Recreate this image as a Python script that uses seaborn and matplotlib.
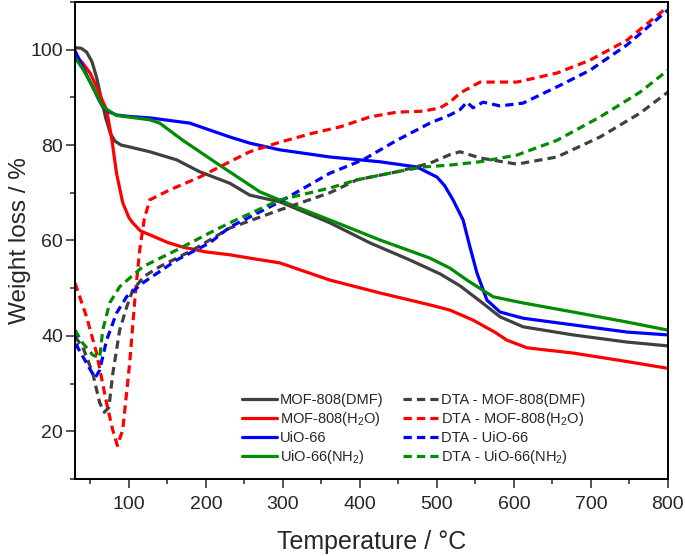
import numpy as np
import pandas as pd
import matplotlib
matplotlib.use("Agg")
import matplotlib.pyplot as plt
import seaborn as sns
from matplotlib.ticker import MultipleLocator

# TGA curves (weight %)
dmf_t = [30, 38, 45, 52, 58, 64, 70, 76, 82, 90, 101, 127, 162, 192, 231, 257, 296, 361, 413, 465, 504, 530, 556, 582, 612, 677, 747, 800]
dmf_w = [100.4, 100.3, 99.5, 97.5, 94.2, 89.8, 85.6, 82.4, 80.8, 80.0, 79.6, 78.6, 76.9, 74.4, 72.0, 69.5, 68.1, 63.7, 59.5, 55.9, 53.0, 50.5, 47.3, 44, 41.9, 40.2, 38.7, 37.9]

h2o_t = [30, 40, 50, 58, 65, 71, 78, 84, 92, 100, 105, 115, 127, 150, 170, 200, 231, 257, 296, 361, 426, 491, 517, 547, 575, 591, 617, 677, 740, 800]
h2o_w = [98.9, 97.2, 95, 92.2, 89.5, 87.4, 81, 74, 67.9, 64.8, 63.7, 62, 61.2, 59.6, 58.6, 57.6, 57, 56.3, 55.3, 51.7, 49, 46.5, 45.4, 43.3, 40.8, 39.1, 37.5, 36.4, 34.8, 33.2]

uio_t = [30, 40, 53, 60, 66, 75, 84, 100, 127, 179, 231, 257, 296, 361, 426, 474, 500, 510, 521, 534, 543, 552, 565, 582, 612, 677, 747, 800]
uio_w = [99.8, 96.4, 92.2, 89.8, 88, 86.9, 86.3, 86, 85.7, 84.6, 81.7, 80.4, 79, 77.5, 76.5, 75.4, 73.3, 71.5, 68.5, 64.3, 58.6, 53.2, 47.5, 45, 43.7, 42.3, 40.8, 40.2]

nh2_t = [30, 40, 53, 66, 84, 127, 140, 170, 214, 257, 270, 318, 361, 426, 491, 517, 539, 573, 612, 677, 747, 800]
nh2_w = [98.3, 96, 92.2, 88, 86.2, 85.3, 84.6, 81, 76.2, 71.6, 70.2, 67, 64.3, 60.1, 56.3, 54.2, 51.7, 48.2, 46.9, 45, 42.9, 41.2]

# DTA curves (plotted on same scale)
dta_dmf_t = [30, 40, 53, 62, 68, 74, 79, 88, 97, 105, 120, 140, 183, 231, 296, 361, 396, 448, 491, 517, 530, 556, 604, 656, 712, 764, 800]
dta_dmf_w = [39.8, 37.7, 32.2, 26, 24, 25, 32, 41.2, 46, 49.6, 52.5, 54.5, 58, 62.6, 66.4, 70, 72.7, 74.4, 76.2, 78, 78.6, 77.3, 76, 77.5, 81.7, 86.7, 91.1]

dta_h2o_t = [30, 45, 58, 71, 79, 85, 92, 101, 108, 114, 120, 127, 153, 192, 231, 257, 296, 339, 374, 413, 448, 482, 504, 517, 530, 556, 604, 656, 699, 747, 800]
dta_h2o_w = [51.1, 44, 36.4, 25.9, 20.3, 17, 20.3, 34.3, 48.2, 58, 64.5, 68.5, 70.6, 73.3, 76.5, 78.6, 80.6, 82.5, 83.8, 85.9, 86.9, 87.1, 87.8, 89, 90.9, 93.2, 93.2, 95.1, 97.8, 102, 109]

dta_uio_t = [30, 33, 45, 56, 62, 71, 84, 97, 118, 162, 205, 231, 296, 361, 404, 448, 491, 517, 530, 539, 547, 560, 582, 612, 656, 699, 747, 800]
dta_uio_w = [41.2, 37.7, 34.3, 31.2, 32.8, 39.1, 44.8, 48.2, 51.1, 55.9, 59.5, 62.8, 68.1, 74.1, 76.9, 81, 84.6, 86.3, 87.4, 89, 87.8, 89, 88.2, 88.8, 92.2, 95.7, 101, 108.3]

dta_nh2_t = [30, 40, 53, 62, 66, 75, 88, 118, 162, 205, 231, 296, 361, 396, 448, 482, 517, 556, 604, 656, 712, 764, 800]
dta_nh2_w = [41.2, 38.5, 36, 35.4, 41.2, 46.9, 50.3, 54.5, 58, 61.6, 63.7, 68.5, 71, 72.7, 74.4, 75.4, 75.8, 76.5, 77.9, 81, 85.9, 91.1, 95.7]

sns.set_style("ticks")
plt.rcParams["font.family"] = ["Liberation Sans", "DejaVu Sans"]
plt.rcParams["mathtext.default"] = "regular"

fig = plt.figure(figsize=(6.85, 5.56), dpi=100)
ax = fig.add_axes([0.1095, 0.1385, 0.8655, 0.858])

gray = "#404040"
red = "#ff0000"
blue = "#0000ff"
green = "#008c00"

solid = [
    (dmf_t, dmf_w, gray, "MOF-808(DMF)"),
    (h2o_t, h2o_w, red, "MOF-808(H$_2$O)"),
    (uio_t, uio_w, blue, "UiO-66"),
    (nh2_t, nh2_w, green, "UiO-66(NH$_2$)"),
]
dashed = [
    (dta_dmf_t, dta_dmf_w, gray, "DTA - MOF-808(DMF)"),
    (dta_h2o_t, dta_h2o_w, red, "DTA - MOF-808(H$_2$O)"),
    (dta_uio_t, dta_uio_w, blue, "DTA - UiO-66"),
    (dta_nh2_t, dta_nh2_w, green, "DTA - UiO-66(NH$_2$)"),
]

for t, w, c, lab in solid:
    sns.lineplot(x=t, y=w, color=c, lw=2.3, label=lab, ax=ax, sort=False)
for t, w, c, lab in dashed:
    sns.lineplot(x=t, y=w, color=c, lw=2.3, label=lab, ax=ax, sort=False,
                 dashes=False, linestyle=(0, (2.6, 1.6)))

ax.set_xlim(30, 800)
ax.set_ylim(10, 110)
ax.xaxis.set_major_locator(MultipleLocator(100))
ax.xaxis.set_minor_locator(MultipleLocator(50))
ax.yaxis.set_major_locator(MultipleLocator(20))
ax.yaxis.set_minor_locator(MultipleLocator(10))
ax.tick_params(which="major", direction="out", length=6.5, width=1.1, labelsize=14)
ax.tick_params(which="minor", direction="out", length=3.5, width=1.1)
ax.tick_params(axis="x", pad=6)
ax.tick_params(axis="y", pad=2)
for s in ax.spines.values():
    s.set_linewidth(1.4)
    s.set_color("black")

ax.set_xlabel("Temperature / °C", fontsize=18, labelpad=12)
ax.set_ylabel("Weight loss / %", fontsize=17.5, labelpad=0)

ax.legend(ncol=2, frameon=False, loc="lower left", bbox_to_anchor=(0.26, 0.0),
          fontsize=10.5, handlelength=2.4, handletextpad=0.2, columnspacing=1.3,
          labelspacing=0.2)

fig.savefig("out.png", dpi=100)
